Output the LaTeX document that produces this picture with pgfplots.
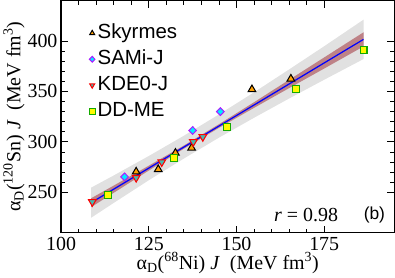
\documentclass[border=0pt]{standalone}
\usepackage{pgfplots}
\pgfplotsset{compat=1.18}
\usepackage{fontspec}
\setmainfont{Liberation Serif}
\newfontfamily\arial{Liberation Sans}
\definecolor{bandgray}{RGB}{225,225,225}
\definecolor{bandbrown}{RGB}{190,130,135}
\definecolor{skyorange}{RGB}{255,160,0}
\definecolor{samiedge}{RGB}{170,30,255}
\definecolor{samifill}{RGB}{0,235,255}
\definecolor{kdefill}{RGB}{70,185,175}
\definecolor{ddgreen}{RGB}{20,170,0}
\definecolor{ddyellow}{RGB}{255,250,0}
\begin{document}
\begin{tikzpicture}
\begin{axis}[
  scale only axis, width=326pt, height=227pt,
  xmin=100, xmax=195, ymin=210, ymax=440,
  xtick={100,125,150,175}, ytick={250,300,350,400},
  minor x tick num=4, minor y tick num=4,
  tick align=inside, major tick length=7pt, minor tick length=4pt,
  every tick/.style={black, line width=0.8pt},
  axis line style={line width=1.2pt},
  /pgf/number format/assume math mode=true,
  tick label style={font=\fontsize{19.5}{22}\selectfont},
  xticklabel style={yshift=-1pt},
  xlabel={α\textsubscript{D}(\textsuperscript{68}Ni) \textit{J}\ \ (MeV fm\textsuperscript{3})},
  ylabel={α\textsubscript{D}(\textsuperscript{120}Sn) \textit{J}\ \ (MeV fm\textsuperscript{3})},
  label style={font=\fontsize{19.5}{22}\selectfont},
  xlabel style={yshift=5pt},
  ylabel style={yshift=-4pt},
  legend style={draw=none, fill=none, at={(rel axis cs:0.075,0.92)}, anchor=north west,
    font=\arial\fontsize{20}{23}\selectfont, row sep=2.5pt,
    nodes={inner sep=2.5pt, text height=14pt, text depth=4pt}},
  legend cell align=left,
  legend image post style={mark size=2.8pt},
]
% prediction band (gray)
\addplot[fill=bandgray, draw=none, forget plot] coordinates {
 (108.6,254.7) (115,266.7) (125,286.0) (135,306.1) (145,327.2) (155,349.1) (165,371.8) (175,394.8) (186.2,421.1)
 (186.2,382.1) (175,361.6) (165,343.0) (155,323.9) (145,304.2) (135,283.5) (125,262.0) (115,239.5) (108.6,224.9)
} -- cycle;
% confidence band (brown)
\addplot[fill=bandbrown, draw=none, forget plot] coordinates {
 (108.6,244.2) (115,256.7) (125,276.4) (135,296.4) (145,317.5) (155,339.3) (165,361.5) (175,383.7) (186.2,408.6)
 (186.2,394.6) (175,372.7) (165,353.3) (155,333.7) (145,313.9) (135,293.2) (125,271.6) (115,249.5) (108.6,235.4)
} -- cycle;
% fit line
\addplot[blue, line width=1.2pt, forget plot] coordinates {(108.6,239.8) (186.2,401.6)};
% Skyrmes
\addplot[only marks, mark=triangle*, mark size=4.3pt, mark options={fill=skyorange, draw=black, line width=1pt}] coordinates {
 (121.4,270.4) (127.7,272.8) (132.6,289) (137.2,294) (154.4,352) (165.5,362.5)};
\addlegendentry{Skyrmes}
% SAMi-J
\addplot[only marks, mark=diamond*, mark size=3.8pt, mark options={xscale=1.3, fill=samifill, draw=samiedge, line width=1pt}] coordinates {
 (118.1,265.3) (137.5,311.3) (145.4,330)};
\addlegendentry{SAMi-J}
% KDE0-J
\addplot[only marks, mark=triangle*, mark size=4.3pt, mark options={rotate=180, fill=kdefill, draw=red, line width=1pt}] coordinates {
 (108.9,240.5) (121.4,264.5) (128.7,280) (137.7,300) (140.4,305)};
\addlegendentry{KDE0-J}
% DD-ME
\addplot[only marks, mark=square*, mark size=3.4pt, mark options={fill=ddyellow, draw=ddgreen, line width=1pt}] coordinates {
 (113.5,247.8) (132.2,284) (147.4,314.3) (167,352.6) (186.2,390.8)};
\addlegendentry{DD-ME}
\node[font=\fontsize{19.5}{22}\selectfont] at (rel axis cs:0.735,0.075) {\textit{r} = 0.98};
\node[font=\arial\fontsize{17}{20}\selectfont] at (rel axis cs:0.94,0.075) {(b)};
\end{axis}
\end{tikzpicture}
\end{document}
